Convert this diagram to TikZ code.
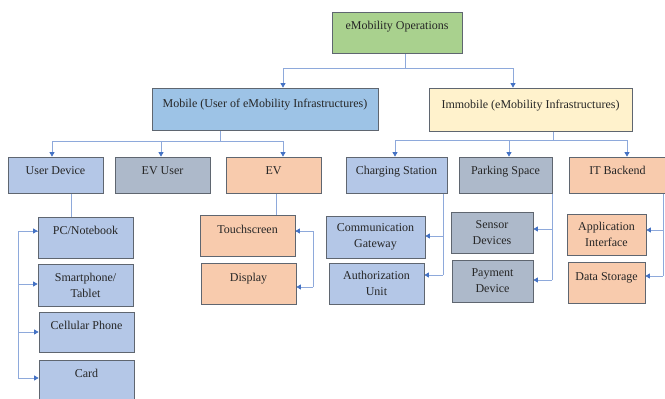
\documentclass[tikz,border=0pt]{standalone}
\usepackage{fontspec}
\setmainfont{Liberation Serif}
\usetikzlibrary{arrows.meta}
\pgfdeclarelayer{bg}
\pgfdeclarelayer{lines}
\pgfsetlayers{bg,lines,main}
\definecolor{greenF}{HTML}{A9D18E}
\definecolor{mobileF}{HTML}{9DC3E6}
\definecolor{immobF}{HTML}{FFF2CC}
\definecolor{lblueF}{HTML}{B4C7E7}
\definecolor{grayF}{HTML}{ADB9CA}
\definecolor{orangeF}{HTML}{F8CBAD}
\definecolor{borderC}{HTML}{5F6670}
\definecolor{lineC}{HTML}{8EA9DB}
\definecolor{arrC}{HTML}{4472C4}
\definecolor{textC}{HTML}{262626}
\begin{document}
\begin{tikzpicture}[x=1pt,y=-1pt,
  box/.style={draw=borderC, line width=0.8pt, inner sep=2pt, align=center,
    font=\fontsize{12}{16}\selectfont, text=textC},
  one/.style={text height=8pt, text depth=#1},
  conn/.style={draw=lineC, line width=0.7pt},
  arr/.style={conn, -{Triangle[width=5pt,length=4.5pt,color=arrC]}}]
\begin{pgfonlayer}{bg}
\fill[white] (0,0) rectangle (665,399);
\end{pgfonlayer}
\useasboundingbox (0,0) rectangle (665,399);

% level 0
\node[box, fill=greenF, one=15pt, minimum width=130pt, minimum height=41pt] (ops) at (397,32.5) {eMobility Operations};
% level 1
\node[box, fill=mobileF, one=12pt, minimum width=226pt, minimum height=42pt] (mobile) at (265,109) {Mobile (User of eMobility Infrastructures)};
\node[box, fill=immobF, one=11pt, minimum width=203pt, minimum height=43pt] (immobile) at (530.5,109.5) {Immobile (eMobility Infrastructures)};
% level 2
\node[box, fill=lblueF, one=9pt, minimum width=95pt, minimum height=36pt] (userdev) at (55.5,175) {User Device};
\node[box, fill=grayF, one=9pt, minimum width=95pt, minimum height=36pt] (evuser) at (162.5,175) {EV User};
\node[box, fill=orangeF, one=9pt, minimum width=95pt, minimum height=36pt] (ev) at (273.5,175) {EV};
\node[box, fill=lblueF, one=9pt, minimum width=101pt, minimum height=36pt] (charging) at (396.5,175) {Charging Station};
\node[box, fill=grayF, one=9pt, minimum width=93pt, minimum height=36pt] (parking) at (505.5,175) {Parking Space};
\node[box, fill=orangeF, one=9pt, minimum width=97pt, minimum height=36pt] (itback) at (617.5,175) {IT Backend};
% level 3
\node[box, fill=lblueF, one=15pt, minimum width=95pt, minimum height=41pt] (pc) at (85.5,237.5) {PC/Notebook};
\node[box, fill=lblueF, minimum width=95pt, minimum height=42pt] (smart) at (85.5,285) {Smartphone/\\Tablet};
\node[box, fill=lblueF, one=14pt, minimum width=95pt, minimum height=40pt] (cell) at (86.5,332) {Cellular Phone};
\node[box, fill=lblueF, one=15pt, minimum width=95pt, minimum height=41pt] (card) at (86.5,380.5) {Card};
\node[box, fill=orangeF, one=13pt, minimum width=95pt, minimum height=41pt] (touch) at (247.5,235.5) {Touchscreen};
\node[box, fill=orangeF, one=13pt, minimum width=95pt, minimum height=41pt] (display) at (248.5,283.5) {Display};
\node[box, fill=lblueF, minimum width=99pt, minimum height=42pt] (commgw) at (375.5,237) {Communication\\Gateway};
\node[box, fill=lblueF, minimum width=95pt, minimum height=41pt] (auth) at (376.5,283.5) {Authorization\\Unit};
\node[box, fill=grayF, minimum width=82pt, minimum height=41pt] (sensor) at (492,232.5) {Sensor\\Devices};
\node[box, fill=grayF, minimum width=81pt, minimum height=42pt] (payment) at (492.5,281) {Payment\\Device};
\node[box, fill=orangeF, minimum width=79pt, minimum height=41pt] (appif) at (606.5,234.5) {Application\\Interface};
\node[box, fill=orangeF, one=13pt, minimum width=77pt, minimum height=41pt] (datastore) at (606.5,282.5) {Data Storage};

% bus coordinates
\coordinate (ud1) at (18,231);
\coordinate (ud2) at (18,284);
\coordinate (ud3) at (18,332);
\coordinate (ud4) at (18,378);
\coordinate (ev1) at (313,231);
\coordinate (ev2) at (313,287);
\coordinate (cs1) at (443,236);
\coordinate (cs2) at (443,275);
\coordinate (pk1) at (552,229);
\coordinate (pk2) at (552,280);
\coordinate (it1) at (663,230);
\coordinate (it2) at (663,276);

\begin{pgfonlayer}{lines}
% level 0 -> 1
\draw[arr] ([xshift=8pt]ops.south) -- ++(0,15) -| ([xshift=18pt]mobile.north);
\draw[arr] ([xshift=8pt]ops.south) -- ++(0,15) -| ([xshift=-17.5pt]immobile.north);
% mobile -> level 2
\draw[arr] ([xshift=-45pt]mobile.south) -- ++(0,11) -| ([xshift=-3.5pt]userdev.north);
\draw[arr] ([xshift=-45pt]mobile.south) -- ++(0,11) -| ([xshift=-1.5pt]evuser.north);
\draw[arr] ([xshift=-45pt]mobile.south) -- ++(0,11) -| ([xshift=9.5pt]ev.north);
% immobile -> level 2
\draw[arr] ([xshift=22.5pt]immobile.south) -- ++(0,9) -| ([xshift=-1.5pt]charging.north);
\draw[arr] ([xshift=22.5pt]immobile.south) -- ++(0,9) -| ([xshift=3.5pt]parking.north);
\draw[arr] ([xshift=22.5pt]immobile.south) -- ++(0,9) -| ([xshift=9.5pt]itback.north);
% user device
\draw[conn] ([xshift=15.5pt]userdev.south) |- (ud1) -- (ud4);
\draw[arr] (ud1) -- (ud1 -| pc.west);
\draw[arr] (ud2) -- (ud2 -| smart.west);
\draw[arr] (ud3) -- (ud3 -| cell.west);
\draw[arr] (ud4) -- (ud4 -| card.west);
% EV
\draw[conn] ([xshift=2.5pt]ev.south) |- (ev1) -- (ev2);
\draw[arr] (ev1) -- (ev1 -| touch.east);
\draw[arr] (ev2) -- (ev2 -| display.east);
% charging station
\draw[conn] ([xshift=46.5pt]charging.south) -- (cs2);
\draw[arr] (cs1) -- (cs1 -| commgw.east);
\draw[arr] (cs2) -- (cs2 -| auth.east);
% parking space
\draw[conn] ([xshift=46.5pt]parking.south) -- (pk2);
\draw[arr] (pk1) -- (pk1 -| sensor.east);
\draw[arr] (pk2) -- (pk2 -| payment.east);
% IT backend
\draw[conn] ([xshift=45.5pt]itback.south) -- (it2);
\draw[arr] (it1) -- (it1 -| appif.east);
\draw[arr] (it2) -- (it2 -| datastore.east);
\end{pgfonlayer}
\end{tikzpicture}
\end{document}
